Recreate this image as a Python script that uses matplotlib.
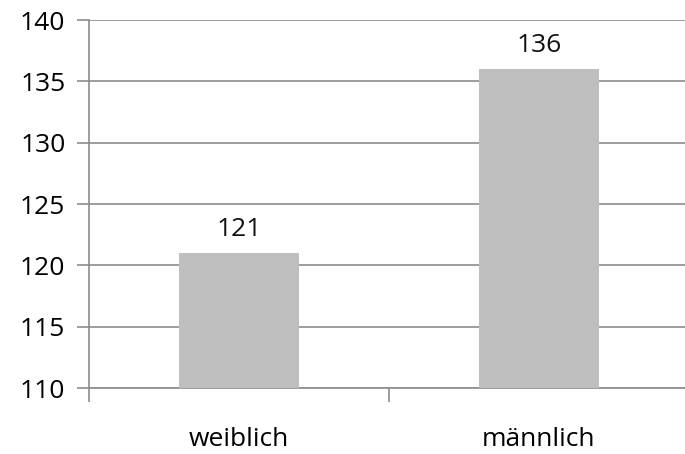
import matplotlib
matplotlib.use("Agg")
import matplotlib.pyplot as plt
import numpy as np

# Daten
kategorien = ["weiblich", "männlich"]
werte = [121, 136]
y_ticks = [110, 115, 120, 125, 130, 135, 140]

plt.rcParams['font.family'] = ['Open Sans', 'DejaVu Sans']

fig = plt.figure(figsize=(6.85, 4.54), dpi=100)
ax = fig.add_axes([89 / 685, 1 - 388 / 454, 600 / 685, (388 - 20) / 454])

x = np.arange(len(kategorien))
ax.bar(x, werte, width=0.4, color='#BFBFBF', zorder=3)
for xi, v in zip(x, werte):
    ax.text(xi, v + 0.9, str(v), ha='center', va='bottom', fontsize=19, color='#111111')

ax.set_ylim(110, 140)
ax.set_xlim(-0.5, 1.5)
ax.set_yticks(y_ticks)
ax.set_yticklabels([str(t) for t in y_ticks])
ax.yaxis.grid(True, color='#8C8C8C', linewidth=1.2, zorder=0)

ax.set_xticks(x)
ax.set_xticklabels(kategorien)
ax.set_xticks([-0.5, 0.5, 1.5], minor=True)
ax.tick_params(axis='x', which='major', length=0, pad=28, labelsize=19)
ax.tick_params(axis='x', which='minor', length=10, width=1.2, color='#8C8C8C', direction='out')
ax.tick_params(axis='y', length=9, width=1.2, color='#8C8C8C', direction='out', pad=8, labelsize=19)

for s in ['top', 'right']:
    ax.spines[s].set_visible(False)
for s in ['left', 'bottom']:
    ax.spines[s].set_color('#8C8C8C')
    ax.spines[s].set_linewidth(1.2)

fig.savefig("out.png", dpi=100)
